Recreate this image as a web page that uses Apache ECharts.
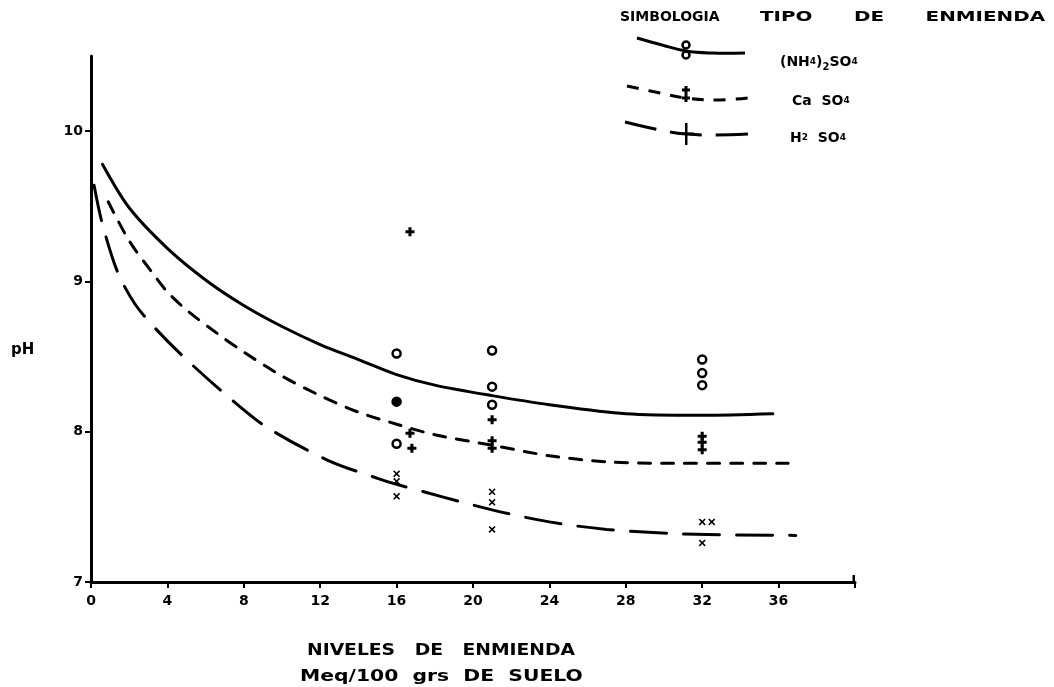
<!DOCTYPE html>
<html>
<head>
<meta charset="utf-8">
<script src="https://cdn.jsdelivr.net/npm/echarts@6/dist/echarts.min.js"></script>
<style>
html,body{margin:0;padding:0;background:#fff;}
#chart{width:1054px;height:687px;}
</style>
</head>
<body>
<div id="chart"></div>
<script>
// ---- Data ----
var xTicks = [0, 4, 8, 12, 16, 20, 24, 28, 32, 36];
var yTicks = [7, 8, 9, 10];

// Observed points: (NH4)2SO4 (circles)
var nh4X = [16, 16, 16, 21, 21, 21, 32, 32, 32];
var nh4Y = [8.52, 8.20, 7.92, 8.54, 8.30, 8.18, 8.48, 8.39, 8.31];
var nh4Filled = [false, true, false, false, false, false, false, false, false];
// Observed points: CaSO4 (plus)
var caX = [16.7, 16.7, 16.8, 21, 21, 21, 32, 32, 32];
var caY = [9.33, 7.99, 7.89, 8.08, 7.94, 7.89, 7.97, 7.93, 7.88];
// Observed points: H2SO4 (x)
var hX = [16, 16, 16, 21, 21, 21, 32, 32.5, 32];
var hY = [7.72, 7.67, 7.57, 7.60, 7.53, 7.35, 7.40, 7.40, 7.26];

// Fitted curves
var nh4CurveX = [0.6, 2, 4, 6, 8, 10, 12, 14, 16, 18, 21, 24, 28, 32, 35.7];
var nh4CurveY = [9.78, 9.49, 9.22, 9.01, 8.84, 8.70, 8.58, 8.48, 8.38, 8.31, 8.24, 8.18, 8.12, 8.11, 8.12];
var caCurveX = [0.9, 2, 3.2, 4, 5, 6.65, 8, 10, 12, 14, 16, 18, 21, 24, 27, 30, 36.5];
var caCurveY = [9.53, 9.27, 9.06, 8.93, 8.81, 8.65, 8.53, 8.37, 8.24, 8.13, 8.05, 7.98, 7.91, 7.84, 7.80, 7.79, 7.79];
var hCurveX = [0.16, 0.58, 1.4, 2.3, 3.35, 5, 7.3, 9.2, 12.4, 15, 16, 21, 24, 27, 31, 36.9];
var hCurveY = [9.64, 9.39, 9.06, 8.85, 8.69, 8.48, 8.22, 8.03, 7.81, 7.69, 7.65, 7.48, 7.40, 7.35, 7.32, 7.31];

function zip(a, b) { return a.map(function (v, i) { return [v, b[i]]; }); }

var PLUS = 'path://M3.3,0 L6.7,0 L6.7,3.3 L10,3.3 L10,6.7 L6.7,6.7 L6.7,10 L3.3,10 L3.3,6.7 L0,6.7 L0,3.3 L3.3,3.3 Z';
var CROSS = 'path://M0,1.6 L1.6,0 L5,3.4 L8.4,0 L10,1.6 L6.6,5 L10,8.4 L8.4,10 L5,6.6 L1.6,10 L0,8.4 L3.4,5 Z';
var FONT = '"DejaVu Sans", "Liberation Sans", sans-serif';

var chart = echarts.init(document.getElementById('chart'), null, { renderer: 'canvas' });

var nh4Data = zip(nh4X, nh4Y).map(function (p, i) {
  return nh4Filled[i] ? { value: p, itemStyle: { color: '#000' } } : p;
});

function curve(data, dash) {
  return {
    type: 'line', data: data, smooth: 0.3, showSymbol: false,
    lineStyle: { color: '#000', width: 3, type: dash, cap: 'round' }, z: 2
  };
}

// small plus glyph for the legend, made of two bars
function plusAt(cx, cy, s, t) {
  return [
    { type: 'rect', shape: { x: cx - t / 2, y: cy - s / 2, width: t, height: s }, style: { fill: '#000' }, z: 10 },
    { type: 'rect', shape: { x: cx - s / 2, y: cy - t / 2, width: s, height: t }, style: { fill: '#000' }, z: 10 }
  ];
}

var graphics = [
  // y-axis title
  { type: 'text', x: 11, y: 343, style: { text: 'pH', font: 'bold 15px ' + FONT, fill: '#000' } },
  // x-axis titles
  { type: 'text', x: 307, y: 643, scaleX: 1.17, style: { text: 'NIVELES   DE   ENMIENDA', font: 'bold 16px ' + FONT, fill: '#000' } },
  { type: 'text', x: 300, y: 669, scaleX: 1.27, style: { text: 'Meq/100  grs  DE  SUELO', font: 'bold 16px ' + FONT, fill: '#000' } },
  // legend headers
  { type: 'text', x: 620, y: 10, style: { text: 'SIMBOLOGIA', font: 'bold 14px ' + FONT, fill: '#000' } },
  { type: 'text', x: 760, y: 10, scaleX: 1.42, style: { text: 'TIPO      DE      ENMIENDA', font: 'bold 14px ' + FONT, fill: '#000' } },
  // legend lines
  { type: 'polyline', shape: { points: [[637, 38], [662, 45], [686, 51], [712, 53], [745, 53]], smooth: 0.4 },
    style: { stroke: '#000', lineWidth: 3, fill: null } },
  { type: 'circle', shape: { cx: 686, cy: 45, r: 3.5 }, style: { fill: '#fff', stroke: '#000', lineWidth: 2.5 }, z: 10 },
  { type: 'circle', shape: { cx: 686, cy: 55, r: 3.5 }, style: { fill: '#fff', stroke: '#000', lineWidth: 2.5 }, z: 10 },
  { type: 'polyline', shape: { points: [[627, 86], [660, 93], [686, 98], [720, 100], [755, 97]], smooth: 0.4 },
    style: { stroke: '#000', lineWidth: 3, fill: null, lineDash: [12, 10] } },
  { type: 'polyline', shape: { points: [[625, 122], [660, 130], [686, 134], [715, 135], [750, 134]], smooth: 0.4 },
    style: { stroke: '#000', lineWidth: 3, fill: null, lineDash: [32, 14] } },
  { type: 'rect', shape: { x: 685, y: 123, width: 2.5, height: 22 }, style: { fill: '#000' }, z: 10 },
  { type: 'rect', shape: { x: 678, y: 132.5, width: 16, height: 2.5 }, style: { fill: '#000' }, z: 10 },
  // x-axis end hook
  { type: 'rect', shape: { x: 852.5, y: 575, width: 2.5, height: 8 }, style: { fill: '#000' }, z: 10 },
  // legend labels
  { type: 'text', x: 780, y: 52, style: {
      text: '(NH{s|4}){b|2}SO{s|4}', font: 'bold 14px ' + FONT, fill: '#000',
      rich: { s: { font: 'bold 9px ' + FONT, fill: '#000' }, b: { font: 'bold 10px ' + FONT, fill: '#000', padding: [10, 0, 0, 0] } } } },
  { type: 'text', x: 792, y: 94, style: {
      text: 'Ca  SO{s|4}', font: 'bold 14px ' + FONT, fill: '#000',
      rich: { s: { font: 'bold 9px ' + FONT, fill: '#000' } } } },
  { type: 'text', x: 790, y: 131, style: {
      text: 'H{s|2}  SO{s|4}', font: 'bold 14px ' + FONT, fill: '#000',
      rich: { s: { font: 'bold 9px ' + FONT, fill: '#000' } } } }
].concat(plusAt(686, 90, 8, 3), plusAt(686, 98, 8, 3));

var option = {
  backgroundColor: '#fff',
  animation: false,
  grid: { left: 91, right: 199, top: 56, bottom: 105 },
  xAxis: {
    type: 'value', min: 0, max: 40, interval: 4,
    axisLine: { lineStyle: { color: '#000', width: 3 } },
    axisTick: { show: true, length: 6, lineStyle: { color: '#000', width: 2 } },
    splitLine: { show: false },
    axisLabel: {
      color: '#000', fontFamily: FONT, fontWeight: 'bold', fontSize: 14, margin: 12,
      formatter: function (v) { return xTicks.indexOf(v) >= 0 ? String(v) : ''; }
    }
  },
  yAxis: {
    type: 'value', min: 7, max: 10.5, interval: 1,
    axisLine: { show: true, lineStyle: { color: '#000', width: 3 } },
    axisTick: { show: true, length: 6, customValues: yTicks, lineStyle: { color: '#000', width: 2 } },
    splitLine: { show: false },
    axisLabel: {
      color: '#000', fontFamily: FONT, fontWeight: 'bold', fontSize: 14, margin: 8,
      customValues: yTicks,
      formatter: function (v) { return yTicks.indexOf(v) >= 0 ? String(v) : ''; }
    }
  },
  series: [
    curve(zip(nh4CurveX, nh4CurveY), 'solid'),
    curve(zip(caCurveX, caCurveY), [12, 11]),
    curve(zip(hCurveX, hCurveY), [36, 17]),
    {
      type: 'scatter', data: nh4Data, symbol: 'circle', symbolSize: 8,
      itemStyle: { color: '#fff', borderColor: '#000', borderWidth: 2.5, opacity: 1 }, z: 5
    },
    {
      type: 'scatter', data: zip(caX, caY), symbol: PLUS, symbolSize: 9,
      itemStyle: { color: '#000', opacity: 1 }, z: 5
    },
    {
      type: 'scatter', data: zip(hX, hY), symbol: CROSS, symbolSize: 7,
      itemStyle: { color: '#000', opacity: 1 }, z: 5
    }
  ],
  graphic: graphics
};
chart.setOption(option);
</script>
</body>
</html>
